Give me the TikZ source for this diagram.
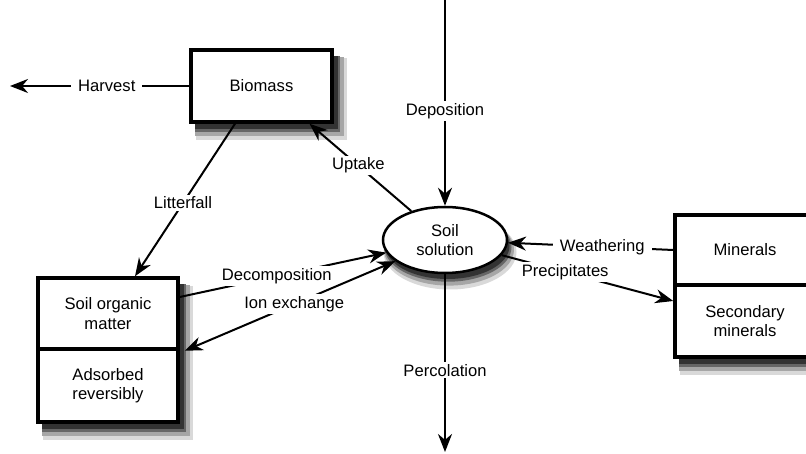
\documentclass[tikz,border=0pt]{standalone}
\usepackage{fontspec}
\setmainfont{Liberation Sans}
\usetikzlibrary{arrows.meta,shapes,backgrounds}

\begin{document}
\begin{tikzpicture}[x=1pt,y=-1pt,>={Stealth[length=18pt,width=14pt]},
        every node/.style={font=\fontsize{16.6}{19.5}\selectfont},
        pool/.style={draw=black,line width=3.5pt,fill=white,align=center,inner sep=0pt},
        every edge/.style={draw,->,line width=2pt},
        lbl/.style={fill=white,inner xsep=7pt,inner ysep=2pt}]
                \useasboundingbox (0,0) rectangle (806,454);
                \node[pool,minimum width=141pt,minimum height=72pt](Biomass)at(261.5, 86){Biomass};
                \node[pool,minimum width=140pt,minimum height=71pt](SOM)at(108, 313.5){Soil organic\\matter};
                \node[pool,minimum width=140pt,minimum height=73pt](Adsorbed)at(108, 385.5){Adsorbed\\reversibly};
                \node[pool,minimum width=140pt,minimum height=70pt](Minerals)at(745, 250){Minerals};
                \node[pool,minimum width=140pt,minimum height=72pt](Secondary)at(745, 321){Secondary\\minerals};
                \node[pool,shape=ellipse,line width=2.5pt,minimum width=124pt,minimum height=66pt](Soil)at(445, 240){Soil\\solution};
                % free ends
                \coordinate(Market)at(10, 86);
                \coordinate(Sky)at(445, 0);
                \coordinate(Ground)at(445, 452);
                \path(Biomass) edge node[lbl,pos=0.46]{Harvest} (Market)
                (Sky) edge node[lbl,pos=0.54]{Deposition} (Soil)
                (Soil) edge node[lbl,pos=0.54]{Percolation} (Ground)
                ([xshift=-26.5pt]Biomass.south) edge node[lbl,pos=0.52]{Litterfall} ([xshift=27pt]SOM.north)
                (Soil) edge node[lbl,pos=0.52]{Uptake} ([xshift=48pt]Biomass.south)
                ([yshift=16.5pt]SOM.east) edge node[lbl,pos=0.47]{Decomposition} (Soil)
                (Soil) edge[<->] node[lbl,pos=0.48]{Ion exchange} ([xshift=5pt]SOM.south east)
                (Minerals.west) edge node[lbl,pos=0.43]{Weathering} (Soil)
                (Soil) edge node[lbl,pos=0.37]{Precipitates} ([yshift=20pt]Secondary.west);
                % soft shadows
                \begin{scope}[on background layer]
                \foreach \d/\g/\c in {10/3.5/15,8/2/35,6/0.5/60,5/-1/80}{
                    \foreach \n in {Biomass,SOM,Adsorbed,Minerals,Secondary}
                        \fill[black!\c]([shift={(\d pt-\g pt,-\d pt*1.3+\g pt)}]\n.north west) rectangle ([shift={(\d pt+\g pt,-\d pt*1.3-\g pt)}]\n.south east);
                    \fill[black!\c]([shift={(\d pt*0.5,-\d pt*1.2)}]Soil.center) ellipse ({63pt+\g pt} and {34pt+\g pt});
                }
                \end{scope}
            \end{tikzpicture}
\end{document}
